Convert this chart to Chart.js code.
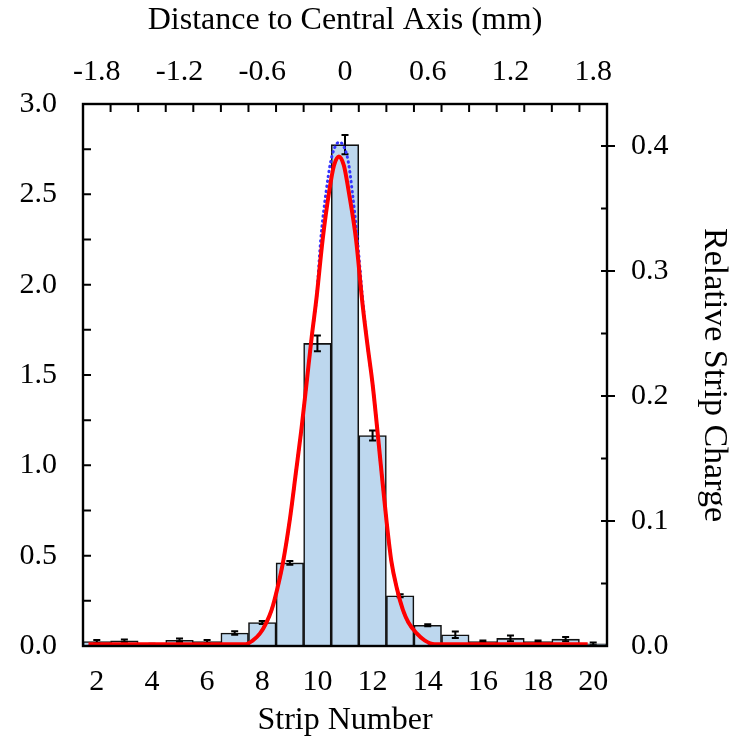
<!DOCTYPE html>
<html><head><meta charset="utf-8">
<script src="https://cdn.jsdelivr.net/npm/chart.js@4.4.1/dist/chart.umd.min.js"></script>
<style>html,body{margin:0;padding:0;background:#fff;}#wrap{width:743px;height:741px;position:relative;}</style>
</head><body><div id="wrap"><canvas id="c"></canvas></div>
<script>
// ---- data ----
const strips      = [2, 3, 4, 5, 6, 7, 8, 9, 10, 11, 12, 13, 14, 15, 16, 17, 18, 19, 20];
const stripCharge = [0.025, 0.028, 0.008, 0.032, 0.025, 0.072, 0.13, 0.46, 1.675, 2.775, 1.165, 0.278, 0.115, 0.062, 0.025, 0.042, 0.025, 0.038, 0.012];
const stripError  = [0.008, 0.008, 0.004, 0.010, 0.008, 0.010, 0.008, 0.010, 0.043, 0.053, 0.028, 0.008, 0.006, 0.018, 0.006, 0.016, 0.006, 0.012, 0.008];

// red fit curve
const fitStrip  = [1.7, 7.4, 7.65, 7.92, 8.15, 8.34, 8.55, 8.76, 9.0, 9.22, 9.42, 9.61, 9.8, 9.97, 10.19, 10.43, 10.6, 10.78, 10.96, 11.13, 11.4, 11.63, 11.82, 12.0, 12.3, 12.5, 12.68, 12.88, 13.1, 13.3, 13.6, 13.9, 14.25, 19.8];
const fitCharge = [0.01, 0.01, 0.03, 0.07, 0.13, 0.2, 0.32, 0.47, 0.70, 0.96, 1.2, 1.46, 1.72, 1.93, 2.25, 2.52, 2.66, 2.71, 2.66, 2.52, 2.25, 1.9, 1.66, 1.45, 1.0, 0.7, 0.47, 0.32, 0.2, 0.13, 0.07, 0.03, 0.01, 0.01];

// blue dotted curve
const altStrip  = [1.7, 7.4, 7.65, 7.92, 8.15, 8.34, 8.55, 8.76, 9.0, 9.22, 9.42, 9.61, 9.8, 9.97, 10.12, 10.32, 10.48, 10.63, 10.8, 10.97, 11.12, 11.26, 11.45, 11.65, 11.82, 12.0, 12.3, 12.5, 12.68, 12.88, 13.1, 13.3, 13.6, 13.9, 14.25, 19.8];
const altCharge = [0, 0, 0.03, 0.07, 0.13, 0.2, 0.32, 0.47, 0.70, 0.96, 1.2, 1.46, 1.72, 1.93, 2.25, 2.52, 2.68, 2.76, 2.79, 2.76, 2.68, 2.52, 2.25, 1.9, 1.66, 1.45, 1.0, 0.7, 0.47, 0.32, 0.2, 0.13, 0.07, 0.03, 0, 0];

// ticks
const bottomTickLabels = [2, 4, 6, 8, 10, 12, 14, 16, 18, 20];
const topTickLabels    = [-1.8, -1.2, -0.6, 0, 0.6, 1.2, 1.8];
const topTickMarks     = [-1.7, -1.5, -1.3, -1.1, -0.9, -0.7, -0.5, -0.3, -0.1, 0.1, 0.3, 0.5, 0.7, 0.9, 1.1, 1.3, 1.5, 1.7];
const leftTickLabels   = [0, 0.5, 1.0, 1.5, 2.0, 2.5, 3.0];
const leftTickMarks    = [0.25, 0.5, 0.75, 1.0, 1.25, 1.5, 1.75, 2.0, 2.25, 2.5, 2.75];
const rightTickLabels  = [0, 0.1, 0.2, 0.3, 0.4];
const rightMajorMarks  = [0.1, 0.2, 0.3, 0.4];
const rightMinorMarks  = [0.05, 0.15, 0.25, 0.35];

const stripMin = 1.5, stripMax = 20.5;
const centralStrip = 11, mmPerStrip = 0.2;
const leftMax = 3.0, rightMax = 0.4336;

// ---- chart ----
const tickFont  = {family: 'Liberation Serif', size: 30};
const titleFont = {family: 'Liberation Serif', size: 32};
const fmt1 = v => (Math.abs(v) < 1e-9 ? '0' : Number(v.toFixed(1)).toString());

const errorBars = {
  id: 'errorBars',
  afterDatasetDraw(chart, args) {
    if (args.index !== 2) return;
    const {ctx, scales: {x, y}} = chart;
    ctx.save();
    ctx.strokeStyle = '#000';
    ctx.lineWidth = 2;
    strips.forEach((s, i) => {
      const px = x.getPixelForValue(s);
      const y1 = y.getPixelForValue(stripCharge[i] + stripError[i]);
      const y2 = y.getPixelForValue(stripCharge[i] - stripError[i]);
      ctx.beginPath();
      ctx.moveTo(px, y1); ctx.lineTo(px, y2);
      ctx.moveTo(px - 3.5, y1); ctx.lineTo(px + 3.5, y1);
      ctx.moveTo(px - 3.5, y2); ctx.lineTo(px + 3.5, y2);
      ctx.stroke();
    });
    ctx.restore();
  }
};

const frameTicks = {
  id: 'frameTicks',
  afterDraw(chart) {
    const {ctx, chartArea: a, scales} = chart;
    ctx.save();
    ctx.strokeStyle = '#000';
    ctx.lineWidth = 2;
    ctx.beginPath();
    leftTickMarks.forEach(v => { const py = scales.y.getPixelForValue(v); ctx.moveTo(a.left, py); ctx.lineTo(a.left + 8, py); });
    topTickMarks.forEach(v => { const px = scales.x2.getPixelForValue(v); ctx.moveTo(px, a.top); ctx.lineTo(px, a.top + 8); });
    rightMajorMarks.forEach(v => { const py = scales.y2.getPixelForValue(v); ctx.moveTo(a.right - 6, py); ctx.lineTo(a.right + 8, py); });
    rightMinorMarks.forEach(v => { const py = scales.y2.getPixelForValue(v); ctx.moveTo(a.right - 6, py); ctx.lineTo(a.right, py); });
    ctx.stroke();
    ctx.lineWidth = 2.4;
    ctx.strokeRect(a.left, a.top, a.right - a.left, a.bottom - a.top);
    ctx.restore();
  }
};

new Chart(document.getElementById('c'), {
  type: 'bar',
  data: {
    datasets: [
      {
        type: 'line', label: 'fit',
        data: fitStrip.map((s, i) => ({x: s, y: fitCharge[i]})),
        borderColor: '#ff0000', borderWidth: 4, pointRadius: 0, fill: false,
        cubicInterpolationMode: 'monotone', order: 1, xAxisID: 'x', yAxisID: 'y'
      },
      {
        type: 'line', label: 'alt',
        data: altStrip.map((s, i) => ({x: s, y: altCharge[i]})),
        borderColor: '#3434ff', borderWidth: 3, borderDash: [0.5, 4.5], borderCapStyle: 'round',
        pointRadius: 0, fill: false, cubicInterpolationMode: 'monotone', order: 2, xAxisID: 'x', yAxisID: 'y'
      },
      {
        type: 'bar', label: 'charge',
        data: strips.map((s, i) => ({x: s, y: stripCharge[i]})),
        backgroundColor: '#bdd7ee', borderColor: '#111', borderWidth: 1.6,
        barPercentage: 1, categoryPercentage: 1, order: 3, xAxisID: 'x', yAxisID: 'y'
      }
    ]
  },
  options: {
    responsive: true, maintainAspectRatio: false, animation: false,
    layout: {padding: 0},
    plugins: {legend: {display: false}, tooltip: {enabled: false}},
    scales: {
      x: {
        type: 'linear', position: 'bottom', min: stripMin, max: stripMax, offset: false,
        grid: {display: false, drawTicks: false}, border: {display: false},
        afterBuildTicks: s => { s.ticks = bottomTickLabels.map(v => ({value: v})); },
        ticks: {font: tickFont, color: '#000', padding: 18, maxRotation: 0, minRotation: 0, autoSkip: false, callback: v => String(v)},
        title: {display: true, text: 'Strip Number', font: titleFont, color: '#000', padding: {top: 0, bottom: 1}},
        afterFit: s => { s.height = 95; }
      },
      x2: {
        type: 'linear', position: 'top',
        min: (stripMin - centralStrip) * mmPerStrip, max: (stripMax - centralStrip) * mmPerStrip, offset: false,
        grid: {display: false, drawTicks: false}, border: {display: false},
        afterBuildTicks: s => { s.ticks = topTickLabels.map(v => ({value: v})); },
        ticks: {font: tickFont, color: '#000', padding: 14, maxRotation: 0, minRotation: 0, autoSkip: false, callback: v => fmt1(v)},
        title: {display: true, text: 'Distance to Central Axis (mm)', font: titleFont, color: '#000', padding: {top: 1, bottom: 0}},
        afterFit: s => { s.height = 104; }
      },
      y: {
        type: 'linear', position: 'left', min: 0, max: leftMax,
        grid: {display: false, drawTicks: false}, border: {display: false},
        afterBuildTicks: s => { s.ticks = leftTickLabels.map(v => ({value: v})); },
        ticks: {font: tickFont, color: '#000', padding: 26, callback: v => v.toFixed(1)},
        afterFit: s => { s.width = 83; }
      },
      y2: {
        type: 'linear', position: 'right', min: 0, max: rightMax,
        grid: {display: false, drawTicks: false}, border: {display: false},
        afterBuildTicks: s => { s.ticks = rightTickLabels.map(v => ({value: v})); },
        ticks: {font: tickFont, color: '#000', padding: 24, callback: v => v.toFixed(1)},
        title: {display: true, text: 'Relative Strip Charge', font: {family: 'Liberation Serif', size: 34}, color: '#000', padding: {top: 9, bottom: 0}},
        afterFit: s => { s.width = 136; }
      }
    }
  },
  plugins: [errorBars, frameTicks]
});
</script>
</body></html>
